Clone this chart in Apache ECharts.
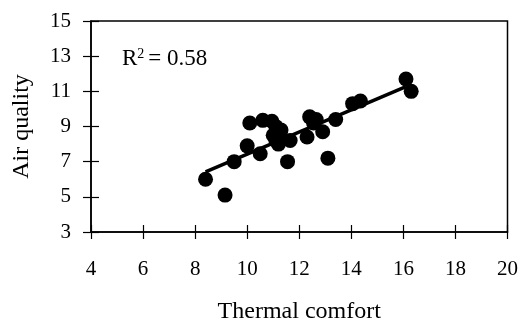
<!DOCTYPE html>
<html><head><meta charset="utf-8">
<script src="https://cdn.jsdelivr.net/npm/echarts@6/dist/echarts.min.js"></script>
<style>html,body{margin:0;padding:0;background:#fff}#c{width:521px;height:329px}</style>
</head><body><div id="c"></div>
<script>
const thermalComfort = [8.4, 9.15, 9.5, 10.0, 10.1, 10.5, 10.6, 10.95, 11.1, 11.0, 11.1, 11.2, 11.3, 11.25, 11.15, 11.65, 11.55, 12.3, 12.4, 12.65, 12.55, 12.9, 13.1, 13.4, 14.05, 14.35, 16.1, 16.3];
const airQuality     = [6.0, 5.1, 7.0, 7.9, 9.2, 7.45, 9.35, 9.3, 9.0, 8.5, 8.2, 8.0, 8.8, 8.4, 8.6, 8.2, 7.0, 8.4, 9.55, 9.4, 9.2, 8.7, 7.2, 9.4, 10.3, 10.45, 11.7, 11.0];
const trendX = [8.4, 16.1];
const trendY = [6.42, 11.27];
const xTicks = [4, 6, 8, 10, 12, 14, 16, 18, 20];
const yTicks = [3, 5, 7, 9, 11, 13, 15];
const r2Label = 'R{sup|2}= 0.58';

const font = '"Liberation Serif", "Times New Roman", serif';
const chart = echarts.init(document.getElementById('c'), null, {renderer: 'canvas'});
const xBase = {type: 'value', min: xTicks[0], max: xTicks[xTicks.length - 1], interval: 2, splitLine: {show: false}};
const yBase = {type: 'value', min: yTicks[0], max: yTicks[yTicks.length - 1], interval: 2, splitLine: {show: false}};
chart.setOption({
  animation: false,
  backgroundColor: '#fff',
  grid: {left: 91, right: 13, top: 21, bottom: 95, show: true, borderColor: '#000', borderWidth: 1.5, backgroundColor: 'transparent'},
  xAxis: [
    Object.assign({}, xBase, {
      position: 'bottom',
      name: 'Thermal comfort', nameLocation: 'middle', nameGap: 68,
      nameTextStyle: {fontFamily: font, fontSize: 24, color: '#000'},
      axisLine: {lineStyle: {color: '#000', width: 1.5}},
      axisTick: {show: true, length: 7, inside: false, lineStyle: {color: '#000', width: 1.2}},
      axisLabel: {fontFamily: font, fontSize: 21, color: '#000', margin: 27}
    }),
    Object.assign({}, xBase, {
      position: 'bottom',
      axisLine: {show: false},
      axisTick: {show: true, length: 7, inside: true, lineStyle: {color: '#000', width: 1.2}},
      axisLabel: {show: false}
    })
  ],
  yAxis: [
    Object.assign({}, yBase, {
      position: 'left',
      name: 'Air quality', nameLocation: 'middle', nameGap: 57, nameRotate: 90,
      nameTextStyle: {fontFamily: font, fontSize: 24, color: '#000'},
      axisLine: {show: true, lineStyle: {color: '#000', width: 1.5}},
      axisTick: {show: true, length: 8, inside: false, lineStyle: {color: '#000', width: 1.2}},
      axisLabel: {fontFamily: font, fontSize: 21, color: '#000', margin: 20}
    }),
    Object.assign({}, yBase, {
      position: 'left',
      axisLine: {show: false},
      axisTick: {show: true, length: 8, inside: true, lineStyle: {color: '#000', width: 1.2}},
      axisLabel: {show: false}
    })
  ],
  graphic: [{
    type: 'text', left: 122, top: 47,
    style: {text: r2Label, fontSize: 23, fontFamily: font, fill: '#000',
      rich: {sup: {fontSize: 14, fontFamily: font, verticalAlign: 'top', padding: [0, 4, 9, 0]}}}
  }],
  series: [
    {type: 'scatter', data: thermalComfort.map((x, i) => [x, airQuality[i]]), symbol: 'circle', symbolSize: 15,
     itemStyle: {color: '#000', opacity: 1}, z: 3},
    {type: 'line', data: trendX.map((x, i) => [x, trendY[i]]), symbol: 'none', lineStyle: {color: '#000', width: 3.5}, z: 4}
  ]
});
</script></body></html>
